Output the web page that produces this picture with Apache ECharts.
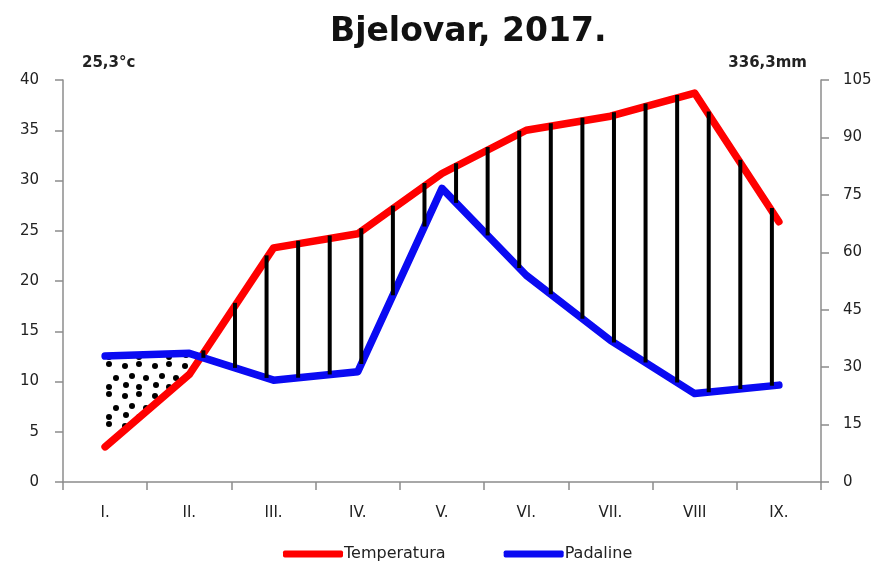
<!DOCTYPE html>
<html>
<head>
<meta charset="utf-8">
<script src="https://cdn.jsdelivr.net/npm/echarts@6/dist/echarts.min.js"></script>
<style>
html,body{margin:0;padding:0;background:#fff;}
#chart{width:884px;height:565px;}
</style>
</head>
<body>
<div id="chart"></div>
<script>
// ---- data ----
const months = ['I.', 'II.', 'III.', 'IV.', 'V.', 'VI.', 'VII.', 'VIII', 'IX.'];
const temperatura = [3.5, 10.7, 23.3, 24.7, 30.7, 35.0, 36.4, 38.7, 25.9];
const padaline = [32.9, 33.6, 26.6, 28.8, 76.7, 54.0, 37.0, 23.1, 25.3];
const leftAxis = { min: 0, max: 40, interval: 5 };
const rightAxis = { min: 0, max: 105, interval: 15 };
const titleText = 'Bjelovar, 2017.';
const tempLabel = '25,3°c';
const rainLabel = '336,3mm';
const seriesNames = ['Temperatura', 'Padaline'];

// ---- helpers ----
const ratio = leftAxis.max / rightAxis.max;

function makeDotPattern() {
  const c = document.createElement('canvas');
  c.width = 30; c.height = 30;
  const g = c.getContext('2d');
  g.fillStyle = '#000';
  const pts = [[5, 6], [19, 4], [12, 16], [26, 18], [6, 25], [19, 27]];
  pts.forEach(p => { g.beginPath(); g.arc(p[0], p[1], 3, 0, Math.PI * 2); g.fill(); });
  return c;
}
const dotPattern = makeDotPattern();

function pointsOf(api) {
  const R = months.map((m, i) => api.coord([i, temperatura[i]]));
  const B = months.map((m, i) => api.coord([i, padaline[i] * ratio]));
  return { R, B };
}

function renderHatch(params, api) {
  const { R, B } = pointsOf(api);
  const n = R.length;
  const catW = R[1][0] - R[0][0];
  const step = catW * 0.375;
  const children = [];
  for (let x = R[n - 1][0] - 7; x >= R[0][0]; x -= step) {
    let i = 0;
    while (i < n - 2 && x > R[i + 1][0]) i++;
    const t = (x - R[i][0]) / (R[i + 1][0] - R[i][0]);
    const yR = R[i][1] + t * (R[i + 1][1] - R[i][1]);
    const yB = B[i][1] + t * (B[i + 1][1] - B[i][1]);
    if (yB - yR > 3) {
      children.push({
        type: 'line',
        shape: { x1: x, y1: yR - 3, x2: x, y2: yB },
        style: { stroke: '#000', lineWidth: 4 }
      });
    }
  }
  return { type: 'group', children };
}

function renderDots(params, api) {
  const { R, B } = pointsOf(api);
  const n = R.length;
  const children = [];
  let top = [], bot = [];
  const flush = () => {
    if (top.length > 1) {
      children.push({
        type: 'polygon',
        shape: { points: top.concat(bot.slice().reverse()) },
        style: { fill: { image: dotPattern, repeat: 'repeat' } }
      });
    }
    top = []; bot = [];
  };
  for (let i = 0; i < n; i++) {
    const above = B[i][1] < R[i][1];
    if (above) { top.push(B[i]); bot.push(R[i]); }
    if (i < n - 1) {
      const d0 = R[i][1] - B[i][1], d1 = R[i + 1][1] - B[i + 1][1];
      if ((d0 > 0) !== (d1 > 0)) {
        const t = d0 / (d0 - d1);
        const cp = [R[i][0] + t * (R[i + 1][0] - R[i][0]), R[i][1] + t * (R[i + 1][1] - R[i][1])];
        top.push(cp); bot.push(cp);
        if (above) flush();
      }
    }
  }
  flush();
  return { type: 'group', children };
}

const axisLineStyle = { color: '#8c8c8c', width: 1.5 };
const labelStyle = { color: '#222', fontFamily: 'DejaVu Sans', fontSize: 15 };

const chart = echarts.init(document.getElementById('chart'), null, { renderer: 'canvas' });
chart.setOption({
  backgroundColor: '#fff',
  animation: false,
  title: {
    text: titleText,
    left: 325,
    top: 11,
    textStyle: { fontFamily: 'DejaVu Sans', fontWeight: 'bold', fontSize: 33, color: '#111' }
  },
  graphic: [
    { type: 'text', left: 82, top: 56, style: { text: tempLabel, font: 'bold 15px "DejaVu Sans"', fill: '#222' } },
    { type: 'text', right: 77, top: 56, style: { text: rainLabel, font: 'bold 15px "DejaVu Sans"', fill: '#222' } }
  ],
  legend: {
    data: seriesNames.map(n => ({ name: n, icon: 'roundRect' })),
    left: 278,
    top: 541,
    itemWidth: 60,
    itemHeight: 7,
    itemGap: 58,
    textStyle: { fontFamily: 'DejaVu Sans', fontSize: 16, color: '#222', padding: [0, 0, 0, -4] }
  },
  grid: { left: 63, right: 63, top: 80, bottom: 83, containLabel: false },
  xAxis: {
    type: 'category',
    data: months,
    boundaryGap: true,
    axisLine: { lineStyle: axisLineStyle },
    axisTick: { show: true, length: 8, lineStyle: axisLineStyle },
    axisLabel: Object.assign({ margin: 24, interval: 0 }, labelStyle),
    splitLine: { show: false }
  },
  yAxis: [
    {
      type: 'value', position: 'left',
      min: leftAxis.min, max: leftAxis.max, interval: leftAxis.interval,
      axisLine: { show: true, lineStyle: axisLineStyle },
      axisTick: { show: true, length: 8, lineStyle: axisLineStyle },
      axisLabel: Object.assign({ margin: 24 }, labelStyle),
      splitLine: { show: false }
    },
    {
      type: 'value', position: 'right',
      min: rightAxis.min, max: rightAxis.max, interval: rightAxis.interval,
      axisLine: { show: true, lineStyle: axisLineStyle },
      axisTick: { show: true, length: 8, lineStyle: axisLineStyle },
      axisLabel: Object.assign({ margin: 22 }, labelStyle),
      splitLine: { show: false }
    }
  ],
  series: [
    {
      type: 'custom', name: 'dots', coordinateSystem: 'cartesian2d', yAxisIndex: 0,
      silent: true, z: 1, data: [[0, 0]], renderItem: renderDots
    },
    {
      name: seriesNames[0], type: 'line', yAxisIndex: 0, data: temperatura,
      symbol: 'none', z: 3, color: '#ff0000',
      lineStyle: { width: 7.5, color: '#ff0000', cap: 'round', join: 'round' }
    },
    {
      name: seriesNames[1], type: 'line', yAxisIndex: 1, data: padaline,
      symbol: 'none', z: 3, color: '#0a0af2',
      lineStyle: { width: 7.5, color: '#0a0af2', cap: 'round', join: 'round' }
    },
    {
      type: 'custom', name: 'hatch', coordinateSystem: 'cartesian2d', yAxisIndex: 0,
      silent: true, z: 4, data: [[0, 0]], renderItem: renderHatch
    }
  ]
});
</script>
</body>
</html>
